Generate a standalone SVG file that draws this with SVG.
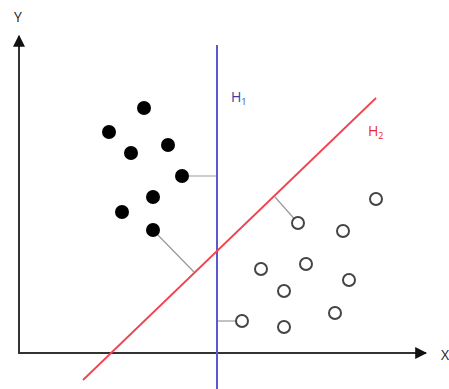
<svg xmlns="http://www.w3.org/2000/svg" width="449" height="389" viewBox="0 0 449 389">
<style>
.axis{stroke:#333;stroke-width:2;fill:none}
.conn{stroke:#999;stroke-width:1.2;fill:none}
.pos{fill:#000}
.neg{fill:#fff;stroke:#444;stroke-width:2}
.lbl{font-family:"Open Sans","Liberation Sans",sans-serif;font-size:14px}
</style>
<defs>
<marker id="ah" viewBox="0 0 10 10" refX="9" refY="5" markerWidth="6" markerHeight="6" orient="auto" markerUnits="strokeWidth">
<path d="M0,0 L10,5 L0,10 z" fill="#111"/>
</marker>
</defs>
<rect width="449" height="389" fill="#fff"/>
<g id="axes">
<line class="axis" x1="19" y1="353" x2="19" y2="36" marker-end="url(#ah)"/>
<line class="axis" x1="18" y1="353" x2="426" y2="353" marker-end="url(#ah)"/>
<text class="lbl" x="18" y="22" text-anchor="middle" fill="#222">Y</text>
<text class="lbl" x="441" y="360" fill="#222">X</text>
</g>
<g id="connectors">
<line class="conn" x1="182" y1="176" x2="217" y2="176"/>
<line class="conn" x1="153" y1="230" x2="194" y2="272"/>
<line class="conn" x1="298" y1="223" x2="275" y2="197"/>
<line class="conn" x1="242" y1="321" x2="217" y2="321"/>
</g>
<g id="H1">
<line x1="217" y1="45" x2="217" y2="389" stroke="#5a5ad0" stroke-width="2"/>
<text class="lbl" x="231" y="102" fill="#3b3ba8">H<tspan font-size="9" dy="3">1</tspan></text>
</g>
<g id="H2">
<line x1="83" y1="380" x2="376" y2="98" stroke="#f04450" stroke-width="1.8"/>
<text class="lbl" x="368" y="136" fill="#e82a38">H<tspan font-size="9" dy="3">2</tspan></text>
</g>
<g id="class1">
<circle class="pos" cx="144" cy="108" r="7"/>
<circle class="pos" cx="109" cy="132" r="7"/>
<circle class="pos" cx="131" cy="153" r="7"/>
<circle class="pos" cx="168" cy="145" r="7"/>
<circle class="pos" cx="182" cy="176" r="7"/>
<circle class="pos" cx="153" cy="197" r="7"/>
<circle class="pos" cx="122" cy="212" r="7"/>
<circle class="pos" cx="153" cy="230" r="7"/>
</g>
<g id="class2">
<circle class="neg" cx="376" cy="199" r="6"/>
<circle class="neg" cx="298" cy="223" r="6"/>
<circle class="neg" cx="343" cy="231" r="6"/>
<circle class="neg" cx="261" cy="269" r="6"/>
<circle class="neg" cx="306" cy="264" r="6"/>
<circle class="neg" cx="349" cy="280" r="6"/>
<circle class="neg" cx="284" cy="291" r="6"/>
<circle class="neg" cx="335" cy="313" r="6"/>
<circle class="neg" cx="242" cy="321" r="6"/>
<circle class="neg" cx="284" cy="327" r="6"/>
</g>
</svg>
